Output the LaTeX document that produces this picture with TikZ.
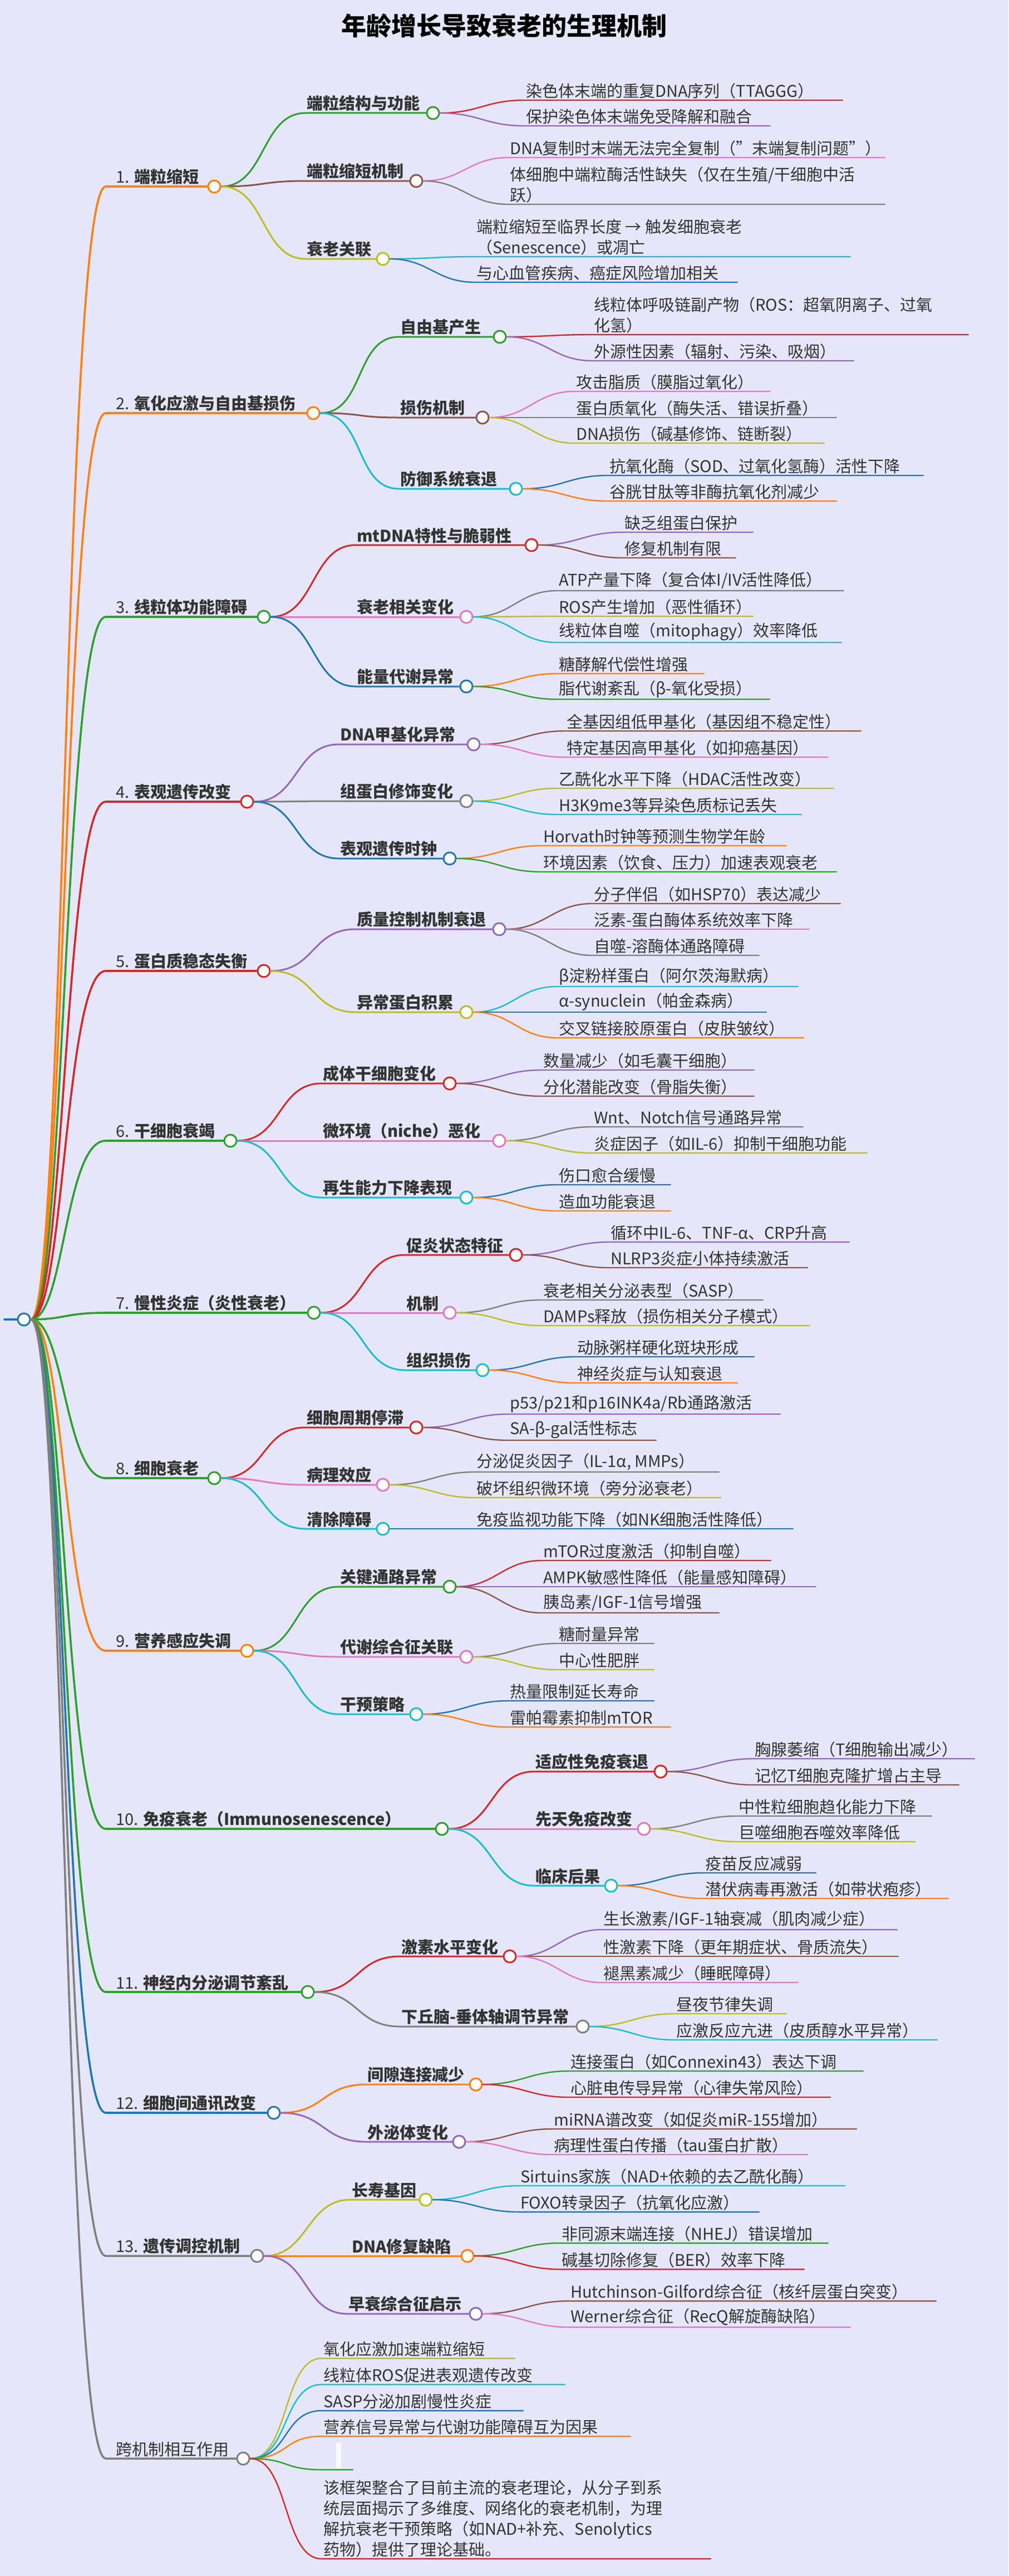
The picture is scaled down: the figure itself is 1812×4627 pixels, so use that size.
\documentclass[tikz,border=0pt]{standalone}
\usepackage{fontspec}
\setmainfont{Noto Sans CJK SC}
\definecolor{mblue}{HTML}{1F77B4}
\definecolor{morange}{HTML}{FF7F0E}
\definecolor{mgreen}{HTML}{2CA02C}
\definecolor{mred}{HTML}{D62728}
\definecolor{mpurple}{HTML}{9467BD}
\definecolor{mbrown}{HTML}{8C564B}
\definecolor{mpink}{HTML}{E377C2}
\definecolor{mgray}{HTML}{7F7F7F}
\definecolor{molive}{HTML}{BCBD22}
\definecolor{mcyan}{HTML}{17BECF}
\definecolor{bgc}{RGB}{230,230,250}
\definecolor{txt}{HTML}{333333}
\tikzset{
 dot/.style={circle,minimum size=22pt,inner sep=0pt,draw=#1,fill=white,line width=3pt},
 eone/.style={line width=3.6pt,line cap=round},
 etwo/.style={line width=3pt,line cap=round},
 ethree/.style={line width=2.4pt,line cap=round},
 lab/.style={font={\fontsize{29}{37}\selectfont},text=txt,inner sep=0pt,align=left},
 blab/.style={lab,font={\fontsize{29}{37}\selectfont\bfseries}},
}
\newcommand\mmLone[5]{%
 \coordinate (#1-s) at (190,#2);
 \node[dot=#4] (#1) at (#3,#2) {};
 \draw[eone,#4] (root.east) .. controls (116,2370) and (116,#2) .. (#1-s) -- (#1.west);
 \node[lab,anchor=south west,xshift=18pt,yshift=3pt] at (#1-s) {#5};}
\newcommand\mmLtwo[6]{%
 \coordinate (#2-s) at (#3,#4);
 \node[dot=#6] (#2) at (#5,#4) {};
 \draw[etwo,#6] (#1.east) .. controls +(80,0) and +(-80,0) .. (#2-s) -- (#2.west);}
\newcommand\mmLtext[2]{\node[blab,anchor=south west,xshift=2pt,yshift=3pt] at (#1-s) {#2};}
\newcommand\mmLeaf[7]{%
 \coordinate (#1-s) at (#3,#5);
 \coordinate (#1-e) at (#4,#5);
 \draw[ethree,#6] (#2.east) .. controls +(70,0) and +(-70,0) .. (#1-s) -- (#1-e);
 \node[lab,anchor=south west,xshift=3pt,yshift=3pt] (#1) at (#1-s) {#7};}
\begin{document}
\begin{tikzpicture}[x=1pt,y=-1pt]
\fill[bgc] (0,0) rectangle (1812,4627);
\useasboundingbox (0,0) rectangle (1812,4627);
\node[font={\fontsize{45}{50}\selectfont\bfseries}] (title) at (906,46) {年龄增长导致衰老的生理机制};
\coordinate (stub) at (8,2370);
\node[dot=mblue] (root) at (43,2370) {};
\draw[eone,mblue] (stub) -- (root.west);
% 1
\mmLone{a}{335}{385}{morange}{1. \textbf{端粒缩短}}
\mmLtwo{a}{a1}{549}{203}{778}{mgreen}\mmLtext{a1}{端粒结构与功能}
\mmLeaf{a11}{a1}{942}{1514}{180}{mred}{染色体末端的重复DNA序列（TTAGGG）}
\mmLeaf{a12}{a1}{942}{1384}{226}{mpurple}{保护染色体末端免受降解和融合}
\mmLtwo{a}{a2}{549}{325}{748}{mbrown}\mmLtext{a2}{端粒缩短机制}
\mmLeaf{a21}{a2}{913}{1590}{283}{mpink}{DNA复制时末端无法完全复制（\symbol{34}末端复制问题\symbol{34}）}
\mmLeaf{a22}{a2}{913}{1590}{367}{mgray}{体细胞中端粒酶活性缺失（仅在生殖/干细胞中活\\跃）}
\mmLtwo{a}{a3}{549}{465}{688}{molive}\mmLtext{a3}{衰老关联}
\mmLeaf{a31}{a3}{853}{1528}{461}{mcyan}{端粒缩短至临界长度 → 触发细胞衰老\\（Senescence）或凋亡}
\mmLeaf{a32}{a3}{853}{1325}{507}{mblue}{与心血管疾病、癌症风险增加相关}
% 2
\mmLone{b}{742}{563}{morange}{2. \textbf{氧化应激与自由基损伤}}
\mmLtwo{b}{b1}{717}{605}{898}{mgreen}\mmLtext{b1}{自由基产生}
\mmLeaf{b11}{b1}{1064}{1740}{601}{mred}{线粒体呼吸链副产物（ROS：超氧阴离子、过氧\\化氢）}
\mmLeaf{b12}{b1}{1064}{1534}{648}{mpurple}{外源性因素（辐射、污染、吸烟）}
\mmLtwo{b}{b2}{717}{750}{867}{mbrown}\mmLtext{b2}{损伤机制}
\mmLeaf{b21}{b2}{1032}{1384}{703}{mpink}{攻击脂质（膜脂过氧化）}
\mmLeaf{b22}{b2}{1032}{1503}{750}{mgray}{蛋白质氧化（酶失活、错误折叠）}
\mmLeaf{b23}{b2}{1032}{1481}{796}{molive}{DNA损伤（碱基修饰、链断裂）}
\mmLtwo{b}{b3}{717}{878}{927}{mcyan}\mmLtext{b3}{防御系统衰退}
\mmLeaf{b31}{b3}{1092}{1659}{854}{mblue}{抗氧化酶（SOD、过氧化氢酶）活性下降}
\mmLeaf{b32}{b3}{1092}{1503}{900}{morange}{谷胱甘肽等非酶抗氧化剂减少}
% 3
\mmLone{c}{1108}{474}{mgreen}{3. \textbf{线粒体功能障碍}}
\mmLtwo{c}{c1}{639}{979}{955}{mred}\mmLtext{c1}{mtDNA特性与脆弱性}
\mmLeaf{c11}{c1}{1119}{1353}{956}{mpurple}{缺乏组蛋白保护}
\mmLeaf{c12}{c1}{1119}{1322}{1002}{mbrown}{修复机制有限}
\mmLtwo{c}{c2}{639}{1108}{838}{mpink}\mmLtext{c2}{衰老相关变化}
\mmLeaf{c21}{c2}{1001}{1516}{1061}{mgray}{ATP产量下降（复合体I/IV活性降低）}
\mmLeaf{c22}{c2}{1001}{1353}{1107}{molive}{ROS产生增加（恶性循环）}
\mmLeaf{c23}{c2}{1001}{1512}{1154}{mcyan}{线粒体自噬（mitophagy）效率降低}
\mmLtwo{c}{c3}{639}{1233}{838}{mblue}\mmLtext{c3}{能量代谢异常}
\mmLeaf{c31}{c3}{1001}{1265}{1210}{morange}{糖酵解代偿性增强}
\mmLeaf{c32}{c3}{1001}{1383}{1256}{mgreen}{脂代谢紊乱（β-氧化受损）}
% 4
\mmLone{d}{1440}{444}{mred}{4. \textbf{表观遗传改变}}
\mmLtwo{d}{d1}{609}{1337}{851}{mpurple}\mmLtext{d1}{DNA甲基化异常}
\mmLeaf{d11}{d1}{1015}{1547}{1313}{mbrown}{全基因组低甲基化（基因组不稳定性）}
\mmLeaf{d12}{d1}{1015}{1488}{1360}{mpink}{特定基因高甲基化（如抑癌基因）}
\mmLtwo{d}{d2}{609}{1439}{838}{mgray}\mmLtext{d2}{组蛋白修饰变化}
\mmLeaf{d21}{d2}{1001}{1498}{1416}{molive}{乙酰化水平下降（HDAC活性改变）}
\mmLeaf{d22}{d2}{1001}{1440}{1463}{mcyan}{H3K9me3等异染色质标记丢失}
\mmLtwo{d}{d3}{609}{1542}{808}{mblue}\mmLtext{d3}{表观遗传时钟}
\mmLeaf{d31}{d3}{973}{1413}{1519}{morange}{Horvath时钟等预测生物学年龄}
\mmLeaf{d32}{d3}{973}{1503}{1566}{mgreen}{环境因素（饮食、压力）加速表观衰老}
% 5
\mmLone{e}{1744}{474}{mred}{5. \textbf{蛋白质稳态失衡}}
\mmLtwo{e}{e1}{639}{1669}{897}{mpurple}\mmLtext{e1}{质量控制机制衰退}
\mmLeaf{e11}{e1}{1064}{1510}{1623}{mbrown}{分子伴侣（如HSP70）表达减少}
\mmLeaf{e12}{e1}{1064}{1454}{1669}{mpink}{泛素-蛋白酶体系统效率下降}
\mmLeaf{e13}{e1}{1064}{1364}{1716}{mgray}{自噬-溶酶体通路障碍}
\mmLtwo{e}{e2}{639}{1818}{838}{molive}\mmLtext{e2}{异常蛋白积累}
\mmLeaf{e21}{e2}{1001}{1434}{1772}{mcyan}{β淀粉样蛋白（阿尔茨海默病）}
\mmLeaf{e22}{e2}{1001}{1377}{1818}{mblue}{α-synuclein（帕金森病）}
\mmLeaf{e23}{e2}{1001}{1444}{1864}{morange}{交叉链接胶原蛋白（皮肤皱纹）}
% 6
\mmLone{f}{2049}{414}{mgreen}{6. \textbf{干细胞衰竭}}
\mmLtwo{f}{f1}{578}{1946}{808}{mred}\mmLtext{f1}{成体干细胞变化}
\mmLeaf{f11}{f1}{973}{1355}{1922}{mpurple}{数量减少（如毛囊干细胞）}
\mmLeaf{f12}{f1}{973}{1355}{1969}{mbrown}{分化潜能改变（骨脂失衡）}
\mmLtwo{f}{f2}{578}{2049}{897}{mpink}\mmLtext{f2}{微环境（niche）恶化}
\mmLeaf{f21}{f2}{1064}{1443}{2024}{mgray}{Wnt、Notch信号通路异常}
\mmLeaf{f22}{f2}{1064}{1558}{2071}{molive}{炎症因子（如IL-6）抑制干细胞功能}
\mmLtwo{f}{f3}{578}{2151}{838}{mcyan}\mmLtext{f3}{再生能力下降表现}
\mmLeaf{f31}{f3}{1001}{1205}{2128}{mblue}{伤口愈合缓慢}
\mmLeaf{f32}{f3}{1001}{1205}{2175}{morange}{造血功能衰退}
% 7
\mmLone{g}{2358}{564}{mgreen}{7. \textbf{慢性炎症（炎性衰老）}}
\mmLtwo{g}{g1}{728}{2254}{927}{mred}\mmLtext{g1}{促炎状态特征}
\mmLeaf{g11}{g1}{1094}{1526}{2231}{mpurple}{循环中IL-6、TNF-α、CRP升高}
\mmLeaf{g12}{g1}{1094}{1451}{2277}{mbrown}{NLRP3炎症小体持续激活}
\mmLtwo{g}{g2}{728}{2358}{808}{mpink}\mmLtext{g2}{机制}
\mmLeaf{g21}{g2}{973}{1371}{2335}{mgray}{衰老相关分泌表型（SASP）}
\mmLeaf{g22}{g2}{973}{1455}{2381}{molive}{DAMPs释放（损伤相关分子模式）}
\mmLtwo{g}{g3}{728}{2461}{867}{mcyan}\mmLtext{g3}{组织损伤}
\mmLeaf{g31}{g3}{1034}{1355}{2437}{mblue}{动脉粥样硬化斑块形成}
\mmLeaf{g32}{g3}{1034}{1325}{2484}{morange}{神经炎症与认知衰退}
% 8
\mmLone{h}{2655}{385}{mgreen}{8. \textbf{细胞衰老}}
\mmLtwo{h}{h1}{549}{2564}{748}{mred}\mmLtext{h1}{细胞周期停滞}
\mmLeaf{h11}{h1}{913}{1402}{2540}{mpurple}{p53/p21和p16INK4a/Rb通路激活}
\mmLeaf{h12}{h1}{913}{1179}{2587}{mbrown}{SA-β-gal活性标志}
\mmLtwo{h}{h2}{549}{2667}{688}{mpink}\mmLtext{h2}{病理效应}
\mmLeaf{h21}{h2}{853}{1292}{2644}{mgray}{分泌促炎因子（IL-1α, MMPs）}
\mmLeaf{h22}{h2}{853}{1295}{2690}{molive}{破坏组织微环境（旁分泌衰老）}
\mmLtwo{h}{h3}{549}{2746}{688}{mcyan}\mmLtext{h3}{清除障碍}
\mmLeaf{h31}{h3}{853}{1425}{2746}{mblue}{免疫监视功能下降（如NK细胞活性降低）}
% 9
\mmLone{i}{2965}{444}{morange}{9. \textbf{营养感应失调}}
\mmLtwo{i}{i1}{609}{2850}{808}{mgreen}\mmLtext{i1}{关键通路异常}
\mmLeaf{i11}{i1}{973}{1385}{2803}{mred}{mTOR过度激活（抑制自噬）}
\mmLeaf{i12}{i1}{973}{1466}{2850}{mpurple}{AMPK敏感性降低（能量感知障碍）}
\mmLeaf{i13}{i1}{973}{1292}{2897}{mbrown}{胰岛素/IGF-1信号增强}
\mmLtwo{i}{i2}{609}{2976}{838}{mpink}\mmLtext{i2}{代谢综合征关联}
\mmLeaf{i21}{i2}{1001}{1175}{2952}{mgray}{糖耐量异常}
\mmLeaf{i22}{i2}{1001}{1175}{2999}{molive}{中心性肥胖}
\mmLtwo{i}{i3}{609}{3079}{748}{mcyan}\mmLtext{i3}{干预策略}
\mmLeaf{i31}{i3}{913}{1175}{3055}{mblue}{热量限制延长寿命}
\mmLeaf{i32}{i3}{913}{1205}{3102}{morange}{雷帕霉素抑制mTOR}
% 10
\mmLone{j}{3285}{794}{mgreen}{10. \textbf{免疫衰老（Immunosenescence）}}
\mmLtwo{j}{j1}{960}{3182}{1187}{mred}\mmLtext{j1}{适应性免疫衰退}
\mmLeaf{j11}{j1}{1353}{1751}{3159}{mpurple}{胸腺萎缩（T细胞输出减少）}
\mmLeaf{j12}{j1}{1353}{1723}{3206}{mbrown}{记忆T细胞克隆扩增占主导}
\mmLtwo{j}{j2}{960}{3285}{1157}{mpink}\mmLtext{j2}{先天免疫改变}
\mmLeaf{j21}{j2}{1324}{1674}{3262}{mgray}{中性粒细胞趋化能力下降}
\mmLeaf{j22}{j2}{1324}{1644}{3308}{molive}{巨噬细胞吞噬效率降低}
\mmLtwo{j}{j3}{960}{3387}{1098}{mcyan}\mmLtext{j3}{临床后果}
\mmLeaf{j31}{j3}{1264}{1466}{3364}{mblue}{疫苗反应减弱}
\mmLeaf{j32}{j3}{1264}{1704}{3410}{morange}{潜伏病毒再激活（如带状疱疹）}
% 11
\mmLone{k}{3578}{553}{mgreen}{11. \textbf{神经内分泌调节紊乱}}
\mmLtwo{k}{k1}{719}{3514}{916}{mred}\mmLtext{k1}{激素水平变化}
\mmLeaf{k11}{k1}{1081}{1612}{3466}{mpurple}{生长激素/IGF-1轴衰减（肌肉减少症）}
\mmLeaf{k12}{k1}{1081}{1614}{3514}{mbrown}{性激素下降（更年期症状、骨质流失）}
\mmLeaf{k13}{k1}{1081}{1434}{3561}{mpink}{褪黑素减少（睡眠障碍）}
\mmLtwo{k}{k2}{719}{3640}{1047}{mgray}\mmLtext{k2}{下丘脑-垂体轴调节异常}
\mmLeaf{k21}{k2}{1212}{1413}{3617}{molive}{昼夜节律失调}
\mmLeaf{k22}{k2}{1212}{1684}{3664}{mcyan}{应激反应亢进（皮质醇水平异常）}
% 12
\mmLone{l}{3795}{492}{mblue}{12. \textbf{细胞间通讯改变}}
\mmLtwo{l}{l1}{658}{3744}{855}{morange}\mmLtext{l1}{间隙连接减少}
\mmLeaf{l11}{l1}{1022}{1551}{3720}{mgreen}{连接蛋白（如Connexin43）表达下调}
\mmLeaf{l12}{l1}{1022}{1492}{3767}{mred}{心脏电传导异常（心律失常风险）}
\mmLtwo{l}{l2}{658}{3847}{825}{mpurple}\mmLtext{l2}{外泌体变化}
\mmLeaf{l21}{l2}{992}{1539}{3824}{mbrown}{miRNA谱改变（如促炎miR-155增加）}
\mmLeaf{l22}{l2}{992}{1451}{3870}{mpink}{病理性蛋白传播（tau蛋白扩散）}
% 13
\mmLone{m}{4052}{462}{mgray}{13. \textbf{遗传调控机制}}
\mmLtwo{m}{m1}{630}{3951}{765}{molive}\mmLtext{m1}{长寿基因}
\mmLeaf{m11}{m1}{932}{1518}{3926}{mcyan}{Sirtuins家族（NAD+依赖的去乙酰化酶）}
\mmLeaf{m12}{m1}{932}{1364}{3973}{mblue}{FOXO转录因子（抗氧化应激）}
\mmLtwo{m}{m2}{630}{4052}{840}{morange}\mmLtext{m2}{DNA修复缺陷}
\mmLeaf{m21}{m2}{1006}{1488}{4029}{mgreen}{非同源末端连接（NHEJ）错误增加}
\mmLeaf{m22}{m2}{1006}{1445}{4076}{mred}{碱基切除修复（BER）效率下降}
\mmLtwo{m}{m3}{624}{4156}{855}{mpurple}\mmLtext{m3}{早衰综合征启示}
\mmLeaf{m31}{m3}{1022}{1682}{4133}{mbrown}{Hutchinson-Gilford综合征（核纤层蛋白突变）}
\mmLeaf{m32}{m3}{1022}{1528}{4180}{mpink}{Werner综合征（RecQ解旋酶缺陷）}
% cross
\mmLone{n}{4416}{437}{mgray}{跨机制相互作用}
\mmLeaf{n1}{n}{578}{925}{4236}{molive}{氧化应激加速端粒缩短}
\mmLeaf{n2}{n}{578}{1015}{4283}{mcyan}{线粒体ROS促进表观遗传改变}
\mmLeaf{n3}{n}{578}{940}{4330}{mblue}{SASP分泌加剧慢性炎症}
\mmLeaf{n4}{n}{578}{1133}{4376}{morange}{营养信号异常与代谢功能障碍互为因果}
\mmLeaf{n5}{n}{578}{634}{4436}{mgreen}{}
\node[fill=white!70!bgc,minimum width=9pt,minimum height=46pt,inner sep=0pt,anchor=south] (n5box) at (608,4434) {};
\mmLeaf{n6}{n}{578}{1277}{4596}{mred}{该框架整合了目前主流的衰老理论，从分子到系\\统层面揭示了多维度、网络化的衰老机制，为理\\解抗衰老干预策略（如NAD+补充、Senolytics\\药物）提供了理论基础。}
\end{tikzpicture}
\end{document}
